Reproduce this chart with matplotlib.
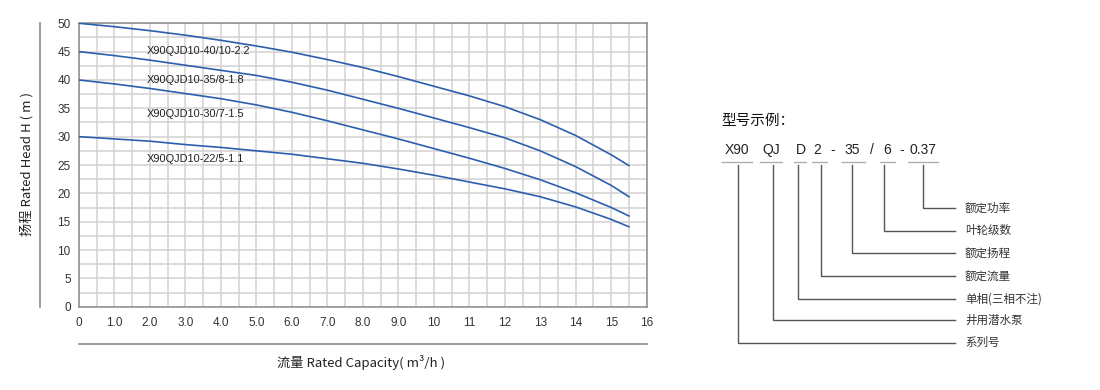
import matplotlib
matplotlib.use("Agg")
import matplotlib.pyplot as plt
import numpy as np

plt.rcParams['font.family'] = ['Liberation Sans', 'Noto Sans CJK SC', 'DejaVu Sans']

# ---- data ----
flow = [0, 1, 2, 3, 4, 5, 6, 7, 8, 9, 10, 11, 12, 13, 14, 15, 15.5]
head_40_10 = [50, 49.4, 48.7, 47.9, 47.0, 46.0, 44.9, 43.6, 42.2, 40.6, 38.9, 37.2, 35.3, 33.0, 30.2, 26.8, 24.9]
head_35_8 = [45, 44.3, 43.5, 42.6, 41.7, 40.8, 39.6, 38.2, 36.6, 35.0, 33.3, 31.6, 29.8, 27.5, 24.7, 21.4, 19.4]
head_30_7 = [40, 39.3, 38.5, 37.6, 36.7, 35.6, 34.3, 32.8, 31.2, 29.6, 27.9, 26.2, 24.4, 22.4, 20.1, 17.5, 16.0]
head_22_5 = [30, 29.6, 29.2, 28.6, 28.1, 27.5, 26.9, 26.1, 25.3, 24.3, 23.2, 22.0, 20.8, 19.4, 17.6, 15.4, 14.1]
series_names = ["X90QJD10-40/10-2.2", "X90QJD10-35/8-1.8", "X90QJD10-30/7-1.5", "X90QJD10-22/5-1.1"]

x_ticks = [0, 1, 2, 3, 4, 5, 6, 7, 8, 9, 10, 11, 12, 13, 14, 15, 16]
x_tick_labels = ["0", "1.0", "2.0", "3.0", "4.0", "5.0", "6.0", "7.0", "8.0", "9.0",
                 "10", "11", "12", "13", "14", "15", "16"]
y_ticks = [0, 5, 10, 15, 20, 25, 30, 35, 40, 45, 50]

code_parts = ["X90", "QJ", "D", "2", "-", "35", "/", "6", "-", "0.37"]
meanings = ["系列号", "井用潜水泵", "单相(三相不注)", "额定流量", "额定扬程", "叶轮级数", "额定功率"]

W, H = 1100, 390
fig = plt.figure(figsize=(11, 3.9), dpi=100)

def fx(px):
    return px / W

def fy(py):
    return 1 - py / H

# ---- main chart ----
L, R, T, B = 79, 646.7, 23.3, 306.7
ax = fig.add_axes([fx(L), fy(B), fx(R) - fx(L), fy(T) - fy(B)])
blue = "#2b5fae"
for h in [head_40_10, head_35_8, head_30_7, head_22_5]:
    ax.plot(flow, h, color=blue, lw=1.2, zorder=3)

ax.set_xlim(0, 16)
ax.set_ylim(0, 50)
ax.set_xticks(x_ticks)
ax.set_xticklabels(x_tick_labels)
ax.set_xticks(np.arange(0.5, 16, 1.0), minor=True)
ax.set_yticks(y_ticks)
ax.set_yticks(np.arange(2.5, 50, 5), minor=True)
ax.grid(True, which="both", color="#d2d2d2", lw=1.1, zorder=0)
ax.tick_params(which="both", length=0)
ax.tick_params(axis="x", pad=7.5, labelsize=8.5, colors="#333333")
ax.tick_params(axis="y", pad=6, labelsize=8.5, colors="#333333")
for s in ax.spines.values():
    s.set_color("#8c8c8c")
    s.set_linewidth(1.1)

label_base = [44.6, 39.4, 33.5, 25.6]
for name, yv in zip(series_names, label_base):
    ax.text(1.92, yv, name, fontsize=7.9, color="#222222", va="baseline", ha="left", zorder=4)

# ---- overlay in pixel coordinates ----
ov = fig.add_axes([0, 0, 1, 1])
ov.set_xlim(0, W)
ov.set_ylim(H, 0)
ov.axis("off")

# detached axis lines
ov.plot([40, 40], [23, 307], color="#8c8c8c", lw=1.2)
ov.plot([79, 647], [344, 344], color="#8c8c8c", lw=1.2)
ov.text(361, 363, "流量 Rated Capacity( m³/h )", fontsize=9.5, ha="center", va="center",
        color="#222222", family=['Noto Sans CJK SC', 'DejaVu Sans'])
ov.text(27, 164, "扬程 Rated Head H ( m )", fontsize=9.5, ha="center", va="center",
        rotation=90, color="#222222", family=['Noto Sans CJK SC', 'DejaVu Sans'])

# ---- model code diagram ----
ov.text(721, 121, "型号示例：", fontsize=10.5, ha="left", va="center", color="#111111",
        family=['Noto Sans CJK SC', 'DejaVu Sans'])

code_x = [736.7, 771, 801, 816.7, 833, 852.5, 871.7, 887.5, 901.7, 922.5]
for s, cx in zip(code_parts, code_x):
    ov.text(cx, 150, s, fontsize=10, ha="center", va="center", color="#222222")

under = [(721.7, 751.7), (760, 781.7), (794, 806), (811.7, 826.7), (841.7, 865), (880, 895), (908.3, 938.3)]
for a, b in under:
    ov.plot([a, b], [161.7, 161.7], color="#b0b0b0", lw=1.0)

vx = [738.3, 772.7, 798.3, 820.7, 851.7, 884, 923.3]
vy = [342.7, 320, 299, 276, 253.3, 230.7, 208.3]
for x0, y0, m in zip(vx, vy, meanings):
    ov.plot([x0, x0, 955], [165, y0, y0], color="#555555", lw=1.0, solid_joinstyle="miter")
    ov.text(965, y0, m, fontsize=8.3, ha="left", va="center", color="#333333",
            family=['Noto Sans CJK SC', 'DejaVu Sans'])

fig.savefig("out.png", dpi=100)
